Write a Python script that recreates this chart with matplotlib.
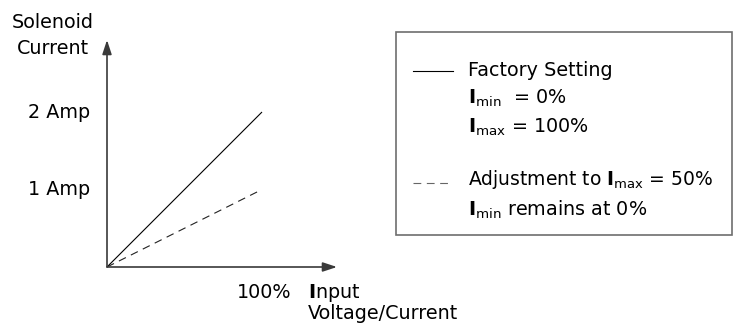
import matplotlib
matplotlib.use("Agg")
import matplotlib.pyplot as plt
from matplotlib.patches import Rectangle
from matplotlib.lines import Line2D

# ---- data ----
input_pct = [0, 100]
factory_current = [0, 2]      # Amp, Imax = 100%
adjusted_current = [0, 1]     # Amp, Imax = 50%
y_tick_labels = ["1 Amp", "2 Amp"]
y_tick_values = [1, 2]
x_tick_label = "100%"
x_tick_value = 100

W, H = 733, 324
DPI = 100
plt.rcParams['font.family'] = ['DejaVu Sans']
plt.rcParams['mathtext.fontset'] = 'dejavusans'

fig = plt.figure(figsize=(W / DPI, H / DPI), dpi=DPI)

# axes covering the full figure; data mapping chosen so origin sits at px (107, 267)
ox, oy = 107, 267
sx = 155 / 100.0   # px per % input
sy = 155 / 2.0     # px per Amp
ax = fig.add_axes([0, 0, 1, 1])
ax.set_xlim(-ox / sx, (W - ox) / sx)
ax.set_ylim(-(H - oy) / sy, oy / sy)
ax.axis('off')

def fp(x, y):
    """pixel (top-left origin) -> figure fraction"""
    return x / W, 1 - y / H

FS = 13.8
FSL = 13.5
axis_col = '#3a3a3a'

# axes with arrows
x_tip = (337 - ox) / sx
y_tip = (oy - 40) / sy
arrow_kw = dict(arrowstyle='-|>,head_length=0.85,head_width=0.28', color=axis_col,
                lw=1.2, shrinkA=0, shrinkB=0, mutation_scale=10)
ax.annotate('', xy=(x_tip, 0), xytext=(0, 0), arrowprops=arrow_kw)
ax.annotate('', xy=(0, y_tip), xytext=(0, 0), arrowprops=arrow_kw)

# data lines
ax.plot(input_pct, factory_current, color='black', lw=0.8, solid_capstyle='butt')
ax.plot(input_pct, adjusted_current, color='#222222', lw=0.8, linestyle=(0, (7, 5)))

# tick labels
for v, lab in zip(y_tick_values, y_tick_labels):
    ax.annotate(lab, xy=(0, v), xytext=(-17, 0), textcoords='offset pixels',
                ha='right', va='center', fontsize=FS)
ax.annotate(x_tick_label, xy=(x_tick_value, 0), xytext=(2, -26), textcoords='offset pixels',
            ha='center', va='center', fontsize=FS)

# axis titles
fig.text(*fp(53, 28), "Solenoid", ha='center', va='baseline', fontsize=FS)
fig.text(*fp(53, 54), "Current", ha='center', va='baseline', fontsize=FS)
fig.text(*fp(308, 298), r"$\mathbf{I}$nput", ha='left', va='baseline', fontsize=FS)
fig.text(*fp(308, 319), "Voltage/Current", ha='left', va='baseline', fontsize=FS)

# legend box
x0, y0 = fp(396, 235)
x1, y1 = fp(732, 32)
fig.add_artist(Rectangle((x0, y0), x1 - x0, y1 - y0, transform=fig.transFigure,
                         facecolor='none', edgecolor='#6e6e6e', lw=1.2))
lx0, _ = fp(413, 0)
lx1, _ = fp(453, 0)
_, ly1 = fp(0, 71)
_, ly2 = fp(0, 183)
fig.add_artist(Line2D([lx0, lx1], [ly1, ly1], transform=fig.transFigure, color='black', lw=0.8))
fig.add_artist(Line2D([lx0, lx1], [ly2, ly2], transform=fig.transFigure, color='#666666',
                      lw=0.8, linestyle=(0, (7, 5))))

tx = 468
fig.text(*fp(tx, 76), "Factory Setting", ha='left', va='baseline', fontsize=FS)
fig.text(*fp(tx, 104), r"$\mathbf{I}_{\mathrm{min}}$  = 0%", ha='left', va='baseline', fontsize=FS)
fig.text(*fp(tx, 133), r"$\mathbf{I}_{\mathrm{max}}$ = 100%", ha='left', va='baseline', fontsize=FS)
fig.text(*fp(tx, 185), r"Adjustment to $\mathbf{I}_{\mathrm{max}}$ = 50%", ha='left', va='baseline', fontsize=FSL)
fig.text(*fp(tx, 216), r"$\mathbf{I}_{\mathrm{min}}$ remains at 0%", ha='left', va='baseline', fontsize=FS)

fig.savefig("out.png", dpi=DPI)
